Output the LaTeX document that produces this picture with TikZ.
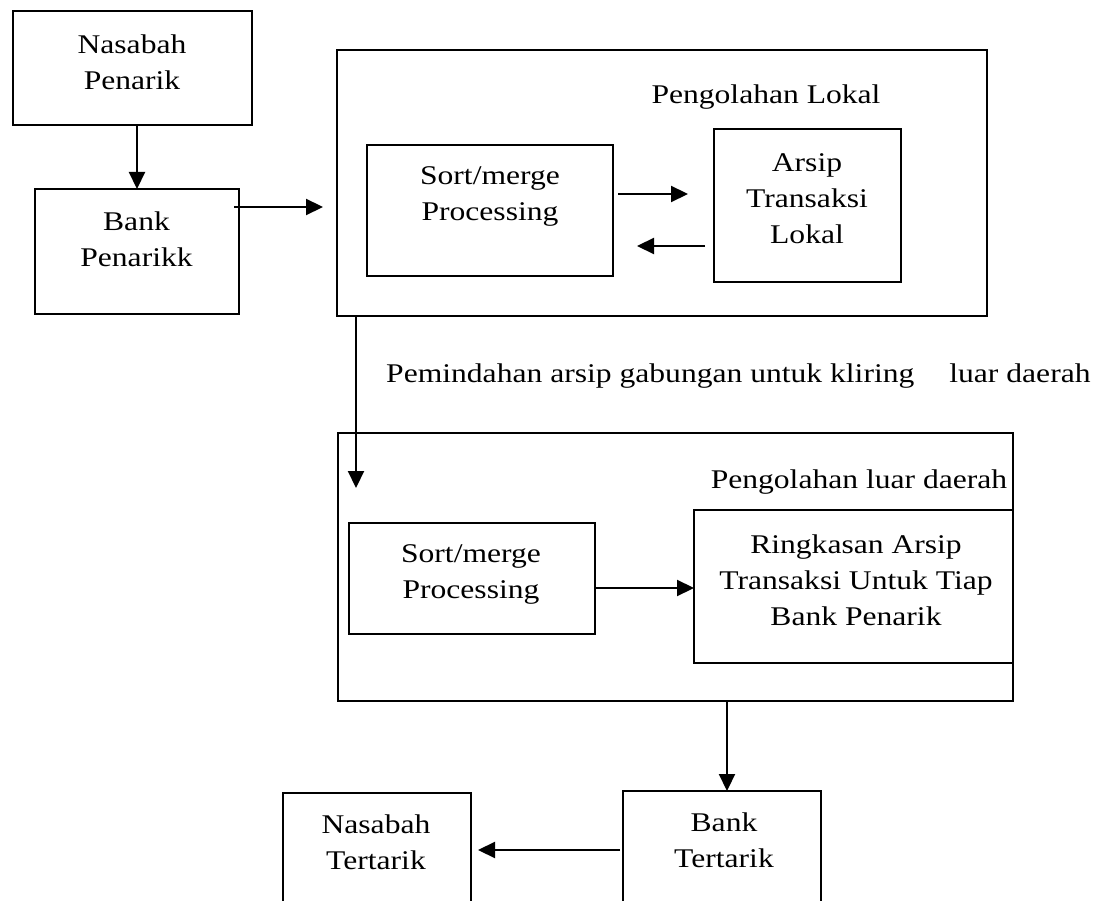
\documentclass[tikz,border=0pt]{standalone}
\usepackage{fontspec}
\setmainfont{Liberation Serif}[FakeStretch=1.17]
\usetikzlibrary{arrows.meta}

\tikzset{
  frame/.style={draw, line width=2.6pt, inner sep=0pt, outer sep=0pt},
  lbl/.style={font=\fontsize{27}{36}\selectfont, align=center, inner sep=0pt},
  arr/.style={line width=2.2pt, -{Triangle[length=17pt,width=16pt]}},
}

\begin{document}
\begin{tikzpicture}[x=1pt, y=-1pt]
  \useasboundingbox (0,0) rectangle (1101,901);
  \fill[white] (0,0) rectangle (1101,901);
  \clip (0,0) rectangle (1101,901);

  % drawer side
  \node[frame, minimum width=239pt, minimum height=114pt] (np) at (132.5,68) {};
  \node[lbl] (npt) at (132,62.5) {Nasabah\\Penarik};
  \node[frame, minimum width=204pt, minimum height=125pt] (bp) at (137,251.5) {};
  \node[lbl] (bpt) at (136.5,239) {Bank\\Penarikk};

  % local processing
  \node[frame, minimum width=650pt, minimum height=266pt] (lok) at (662,183) {};
  \node[lbl] (lokt) at (766,97) {Pengolahan Lokal};
  \node[frame, minimum width=246pt, minimum height=131pt] (sm1) at (490,210.5) {};
  \node[lbl] (sm1t) at (490,196) {Sort/merge\\Processing};
  \node[frame, minimum width=187pt, minimum height=153pt] (arl) at (807.5,205.5) {};
  \node[lbl] (arlt) at (807,198.5) {Arsip\\Transaksi\\Lokal};

  % transfer label
  \node[lbl, anchor=west] (trf) at (386,376)
    {Pemindahan arsip gabungan untuk kliring\hspace{35pt}luar daerah};

  % out-of-region processing
  \node[frame, minimum width=675pt, minimum height=268pt] (lud) at (675.5,567) {};
  \node[lbl] (ludt) at (859,482) {Pengolahan luar daerah};
  \node[frame, minimum width=246pt, minimum height=111pt] (sm2) at (472,578.5) {};
  \node[lbl] (sm2t) at (471,574.5) {Sort/merge\\Processing};
  \node[frame, minimum width=319pt, minimum height=153pt] (rk) at (853.5,586.5) {};
  \node[lbl] (rkt) at (856,580) {Ringkasan Arsip\\Transaksi Untuk Tiap\\Bank Penarik};

  % drawee side
  \node[frame, minimum width=188pt, minimum height=167pt] (nt) at (377,876.5) {};
  \node[lbl] (ntt) at (376,842) {Nasabah\\Tertarik};
  \node[frame, minimum width=198pt, minimum height=169pt] (bt) at (722,875.5) {};
  \node[lbl] (btt) at (724,840.5) {Bank\\Tertarik};

  % connector guides
  \coordinate (h1) at (0,207);
  \coordinate (h2) at (0,194);
  \coordinate (h3) at (0,246);
  \coordinate (h4) at (0,588);
  \coordinate (h5) at (0,850);
  \coordinate (v1e) at (356,488);
  \coordinate (v2) at (727,0);

  % connectors
  \draw[arr] (np.south -| bp.north) -- (bp.north);
  \draw[arr] ([xshift=-5pt]bp.east |- h1) -- ([xshift=-14pt]lok.west |- h1);
  \draw[arr] ([xshift=5pt]sm1.east |- h2) -- ([xshift=-26pt]arl.west |- h2);
  \draw[arr] ([xshift=-9pt]arl.west |- h3) -- ([xshift=24pt]sm1.east |- h3);
  \draw[arr] (lok.south -| v1e) -- (v1e);
  \draw[arr] (sm2.east |- h4) -- (rk.west |- h4);
  \draw[arr] (lud.south -| v2) -- (bt.north -| v2);
  \draw[arr] ([xshift=-3pt]bt.west |- h5) -- ([xshift=7pt]nt.east |- h5);
\end{tikzpicture}
\end{document}
